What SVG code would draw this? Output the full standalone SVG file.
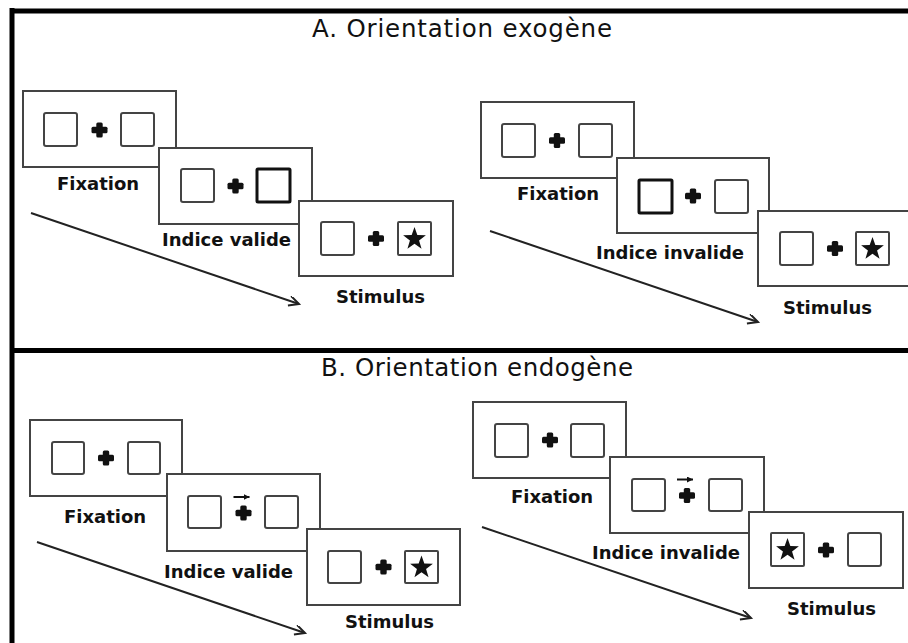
<svg xmlns="http://www.w3.org/2000/svg" xmlns:xlink="http://www.w3.org/1999/xlink" width="908" height="643" viewBox="0 0 908 643">
<style>
.frame{stroke:#000;stroke-width:5;fill:none}
.panel{fill:#fff;stroke:#444;stroke-width:2}
.sq{fill:none;stroke:#444;stroke-width:2}
.sqb{fill:none;stroke:#111;stroke-width:3}
.title{font-family:"DejaVu Sans",Verdana,sans-serif;font-size:24.5px;fill:#111}
.lbl{font-family:"DejaVu Sans",Verdana,sans-serif;font-size:18px;font-weight:bold;fill:#111}
.conn{stroke:#222;stroke-width:2;fill:none}
</style>
<defs>
<marker id="ah" markerWidth="14" markerHeight="12" refX="11" refY="5" orient="auto" markerUnits="userSpaceOnUse">
<path d="M1,0 L11,5 L1,10" fill="none" stroke="#222" stroke-width="2"/>
</marker>
<marker id="ahs" markerWidth="8" markerHeight="6" refX="6" refY="3" orient="auto" markerUnits="userSpaceOnUse">
<path d="M0,0 L6,3 L0,6 Z" fill="#111"/>
</marker>
<g id="cross"><rect x="-8" y="-3.2" width="16" height="6.4" rx="1.5" fill="#111"/><rect x="-3.2" y="-7.5" width="6.4" height="15" rx="1.5" fill="#111"/></g>
<path id="star" d="M0,-12 L2.82,-3.88 L11.41,-3.71 L4.57,1.48 L7.05,9.71 L0,4.8 L-7.05,9.71 L-4.57,1.48 L-11.41,-3.71 L-2.82,-3.88 Z" fill="#111"/>
<g id="cue"><line x1="-10" y1="-16" x2="6" y2="-16" stroke="#111" stroke-width="2" marker-end="url(#ahs)"/></g>
</defs>

<g id="frame">
<line class="frame" x1="10" y1="11" x2="908" y2="11"/>
<line class="frame" x1="12" y1="8" x2="12" y2="643"/>
<line class="frame" x1="12" y1="350.5" x2="908" y2="350.5"/>
</g>

<g id="title-a"><text class="title" x="312" y="37" textLength="300" lengthAdjust="spacing">A. Orientation exogène</text></g>
<g id="title-b"><text class="title" x="321" y="376" textLength="312" lengthAdjust="spacing">B. Orientation endogène</text></g>

<g id="connectors">
<line class="conn" x1="31" y1="213" x2="299" y2="304" marker-end="url(#ah)"/>
<line class="conn" x1="490" y1="231" x2="758" y2="322" marker-end="url(#ah)"/>
<line class="conn" x1="37" y1="542" x2="305" y2="633" marker-end="url(#ah)"/>
<line class="conn" x1="482" y1="527" x2="751" y2="618" marker-end="url(#ah)"/>
</g>

<!-- A left: valid -->
<g id="a-valid-fixation">
<g transform="translate(23,91)">
<rect class="panel" x="0" y="0" width="153" height="76"/>
<rect class="sq" x="21" y="22" width="33" height="33" rx="2"/>
<rect class="sq" x="98" y="22" width="33" height="33" rx="2"/>
<use xlink:href="#cross" x="76.5" y="39"/>
</g>
<text class="lbl" x="57" y="190">Fixation</text>
</g>
<g id="a-valid-cue">
<g transform="translate(159,148)">
<rect class="panel" x="0" y="0" width="153" height="76"/>
<rect class="sq" x="22" y="21" width="33" height="33" rx="2"/>
<rect class="sqb" x="98" y="21" width="33" height="33" rx="1"/>
<use xlink:href="#cross" x="76.5" y="38"/>
</g>
<text class="lbl" x="162" y="246">Indice valide</text>
</g>
<g id="a-valid-stimulus">
<g transform="translate(299,201)">
<rect class="panel" x="0" y="0" width="154" height="75"/>
<rect class="sq" x="22" y="21" width="33" height="33" rx="2"/>
<rect class="sq" x="99" y="21" width="33" height="33" rx="1"/>
<use xlink:href="#cross" x="77" y="37.5"/>
<use xlink:href="#star" x="115.5" y="38"/>
</g>
<text class="lbl" x="336" y="303">Stimulus</text>
</g>

<!-- A right: invalid -->
<g id="a-invalid-fixation">
<g transform="translate(481,102)">
<rect class="panel" x="0" y="0" width="153" height="76"/>
<rect class="sq" x="21" y="22" width="33" height="33" rx="2"/>
<rect class="sq" x="98" y="22" width="33" height="33" rx="2"/>
<use xlink:href="#cross" x="76" y="38.5"/>
</g>
<text class="lbl" x="517" y="200">Fixation</text>
</g>
<g id="a-invalid-cue">
<g transform="translate(617,158)">
<rect class="panel" x="0" y="0" width="152" height="75"/>
<rect class="sqb" x="22" y="22" width="33" height="33" rx="1"/>
<rect class="sq" x="98" y="22" width="33" height="33" rx="2"/>
<use xlink:href="#cross" x="76" y="38"/>
</g>
<text class="lbl" x="596" y="259">Indice invalide</text>
</g>
<g id="a-invalid-stimulus">
<g transform="translate(758,211)">
<rect class="panel" x="0" y="0" width="160" height="75"/>
<rect class="sq" x="22" y="21" width="33" height="33" rx="2"/>
<rect class="sq" x="98" y="21" width="33" height="33" rx="1"/>
<use xlink:href="#cross" x="77" y="37.5"/>
<use xlink:href="#star" x="114.5" y="38"/>
</g>
<text class="lbl" x="783" y="314">Stimulus</text>
</g>

<!-- B left: valid -->
<g id="b-valid-fixation">
<g transform="translate(30,420)">
<rect class="panel" x="0" y="0" width="152" height="76"/>
<rect class="sq" x="22" y="22" width="32" height="32" rx="2"/>
<rect class="sq" x="98" y="22" width="32" height="32" rx="2"/>
<use xlink:href="#cross" x="76" y="38"/>
</g>
<text class="lbl" x="64" y="523">Fixation</text>
</g>
<g id="b-valid-cue">
<g transform="translate(167,474)">
<rect class="panel" x="0" y="0" width="153" height="77"/>
<rect class="sq" x="21" y="22" width="33" height="32" rx="2"/>
<rect class="sq" x="98" y="22" width="33" height="32" rx="2"/>
<use xlink:href="#cross" x="76.5" y="39"/>
<use xlink:href="#cue" x="76.5" y="39"/>
</g>
<text class="lbl" x="164" y="578">Indice valide</text>
</g>
<g id="b-valid-stimulus">
<g transform="translate(307,529)">
<rect class="panel" x="0" y="0" width="153" height="76"/>
<rect class="sq" x="21" y="22" width="33" height="32" rx="2"/>
<rect class="sq" x="98" y="22" width="33" height="32" rx="1"/>
<use xlink:href="#cross" x="76.5" y="38"/>
<use xlink:href="#star" x="114.5" y="38.5"/>
</g>
<text class="lbl" x="345" y="628">Stimulus</text>
</g>

<!-- B right: invalid -->
<g id="b-invalid-fixation">
<g transform="translate(473,402)">
<rect class="panel" x="0" y="0" width="153" height="76"/>
<rect class="sq" x="22" y="22" width="33" height="33" rx="2"/>
<rect class="sq" x="98" y="22" width="33" height="33" rx="2"/>
<use xlink:href="#cross" x="77" y="38"/>
</g>
<text class="lbl" x="511" y="503">Fixation</text>
</g>
<g id="b-invalid-cue">
<g transform="translate(610,457)">
<rect class="panel" x="0" y="0" width="154" height="76"/>
<rect class="sq" x="22" y="22" width="33" height="32" rx="2"/>
<rect class="sq" x="99" y="22" width="33" height="32" rx="2"/>
<use xlink:href="#cross" x="77" y="38.5"/>
<use xlink:href="#cue" x="77" y="38.5"/>
</g>
<text class="lbl" x="592" y="559">Indice invalide</text>
</g>
<g id="b-invalid-stimulus">
<g transform="translate(749,512)">
<rect class="panel" x="0" y="0" width="154" height="76"/>
<rect class="sq" x="22" y="21" width="33" height="33" rx="1"/>
<rect class="sq" x="99" y="21" width="33" height="33" rx="2"/>
<use xlink:href="#cross" x="77" y="38"/>
<use xlink:href="#star" x="38.5" y="38"/>
</g>
<text class="lbl" x="787" y="615">Stimulus</text>
</g>
</svg>
